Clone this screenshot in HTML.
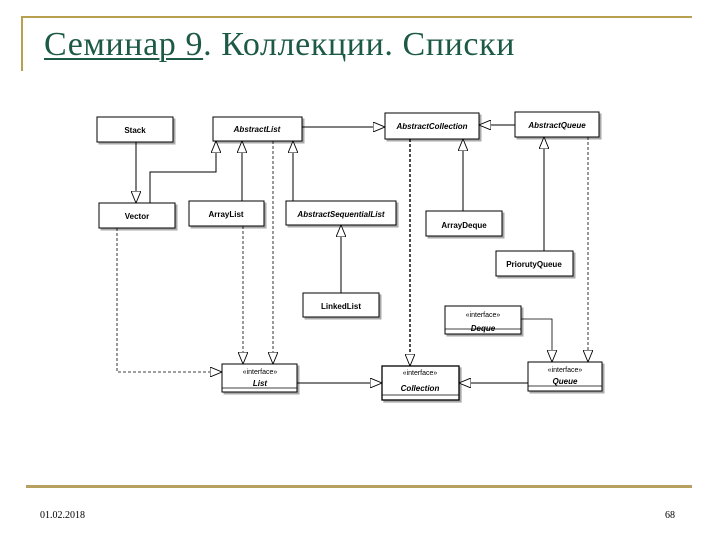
<!DOCTYPE html>
<html><head><meta charset="utf-8"><style>
html,body{margin:0;padding:0;background:#fff;}
body{width:720px;height:540px;position:relative;overflow:hidden;}
.t{position:absolute;left:44px;top:26px;font-family:"Liberation Serif",serif;font-size:34px;color:#1d5a45;white-space:nowrap;letter-spacing:0.6px}
.t u{text-decoration-thickness:2px;text-underline-offset:3px}
.f{position:absolute;top:510px;font-family:"Liberation Serif",serif;font-size:10px;color:#000;}
</style></head><body>
<div style="position:absolute;left:22px;top:16px;width:670px;height:2px;background:#b8a050"></div>
<div style="position:absolute;left:21px;top:16px;width:2px;height:55px;background:#b8a050"></div>
<div style="position:absolute;left:26px;top:485px;width:666px;height:3px;background:#b8a060"></div>
<div class="t"><u>Семинар 9</u>. Коллекции. Списки</div>
<div class="f" style="left:40px">01.02.2018</div>
<div class="f" style="left:665px">68</div>
<svg width="720" height="540" style="position:absolute;left:0;top:0" font-family="Liberation Sans, sans-serif" font-size="8" font-weight="bold">
<defs>
<marker id="a" viewBox="0 0 12 10" refX="12" refY="5" markerWidth="12" markerHeight="10" markerUnits="userSpaceOnUse" orient="auto">
<path d="M0,0 L12,5 L0,10 Z" fill="#fff" stroke="#000" stroke-width="0.9"/>
</marker>
</defs>
<g fill="#fff" stroke="#000" stroke-width="1">
<g style="filter:drop-shadow(2px 2px 0 #aaa)">
<rect x="97" y="117" width="76" height="25"/>
<rect x="213" y="117" width="89" height="24"/>
<rect x="385" y="113" width="94" height="26"/>
<rect x="515" y="112" width="84" height="25"/>
<rect x="99" y="203" width="76" height="25"/>
<rect x="189" y="201" width="75" height="25"/>
<rect x="286" y="201" width="110" height="24"/>
<rect x="426" y="211" width="76" height="25"/>
<rect x="496" y="251" width="77" height="25"/>
<rect x="303" y="293" width="76" height="24"/>
<rect x="445" y="306" width="76" height="28"/>
<rect x="222" y="364" width="75" height="28"/>
<rect x="382" y="366" width="77" height="34" stroke-width="1.3"/>
<rect x="528" y="362" width="74" height="29"/>
</g>
</g>
<g stroke="#000" stroke-width="0.8">
<line x1="445" y1="329" x2="521" y2="329"/>
<line x1="222" y1="388" x2="297" y2="388"/>
<line x1="382" y1="395" x2="459" y2="395"/>
<line x1="528" y1="386" x2="602" y2="386"/>
</g>
<g fill="none" stroke="#000" stroke-width="1">
<line x1="136" y1="142" x2="136" y2="203" marker-end="url(#a)"/>
<polyline points="150,203 150,172 216,172 216,141" marker-end="url(#a)"/>
<line x1="242" y1="201" x2="242" y2="141" marker-end="url(#a)"/>
<line x1="293" y1="201" x2="293" y2="141" marker-end="url(#a)"/>
<line x1="302" y1="127" x2="385" y2="127" marker-end="url(#a)"/>
<line x1="515" y1="125" x2="479" y2="125" marker-end="url(#a)"/>
<line x1="463" y1="211" x2="463" y2="139" marker-end="url(#a)"/>
<line x1="544" y1="251" x2="544" y2="137" marker-end="url(#a)"/>
<line x1="341" y1="293" x2="341" y2="225" marker-end="url(#a)"/>
<polyline points="521,319 552,319 552,362" marker-end="url(#a)" stroke-width="0.8"/>
<line x1="297" y1="383" x2="382" y2="383" marker-end="url(#a)"/>
<line x1="528" y1="383" x2="459" y2="383" marker-end="url(#a)"/>
<g stroke-dasharray="3,2" stroke-width="0.8">
<polyline points="117,228 117,372 222,372" marker-end="url(#a)"/>
<line x1="243" y1="226" x2="243" y2="364" marker-end="url(#a)"/>
<line x1="273" y1="141" x2="273" y2="364" marker-end="url(#a)"/>
<line x1="588" y1="137" x2="588" y2="362" marker-end="url(#a)"/>
<line x1="410" y1="139" x2="410" y2="366" marker-end="url(#a)" stroke-width="1.4"/>
</g>
</g>
<g fill="#000" text-anchor="middle">
<text x="135" y="133">Stack</text>
<text x="257" y="132" font-style="italic">AbstractList</text>
<text x="432" y="129" font-style="italic">AbstractCollection</text>
<text x="557" y="128" font-style="italic">AbstractQueue</text>
<text x="137" y="219">Vector</text>
<text x="226" y="217">ArrayList</text>
<text x="341" y="217" font-style="italic">AbstractSequentialList</text>
<text x="464" y="228">ArrayDeque</text>
<text x="534" y="267">PriorutyQueue</text>
<text x="341" y="309">LinkedList</text>
<g font-weight="normal" font-size="7"><text x="483" y="317">«interface»</text><text x="260" y="374">«interface»</text><text x="420" y="375">«interface»</text><text x="565" y="372">«interface»</text></g>
<text x="483" y="331" font-style="italic">Deque</text>
<text x="260" y="386" font-style="italic">List</text>
<text x="420" y="391" font-style="italic">Collection</text>
<text x="565" y="384" font-style="italic">Queue</text>
</g>
</svg>
</body></html>
